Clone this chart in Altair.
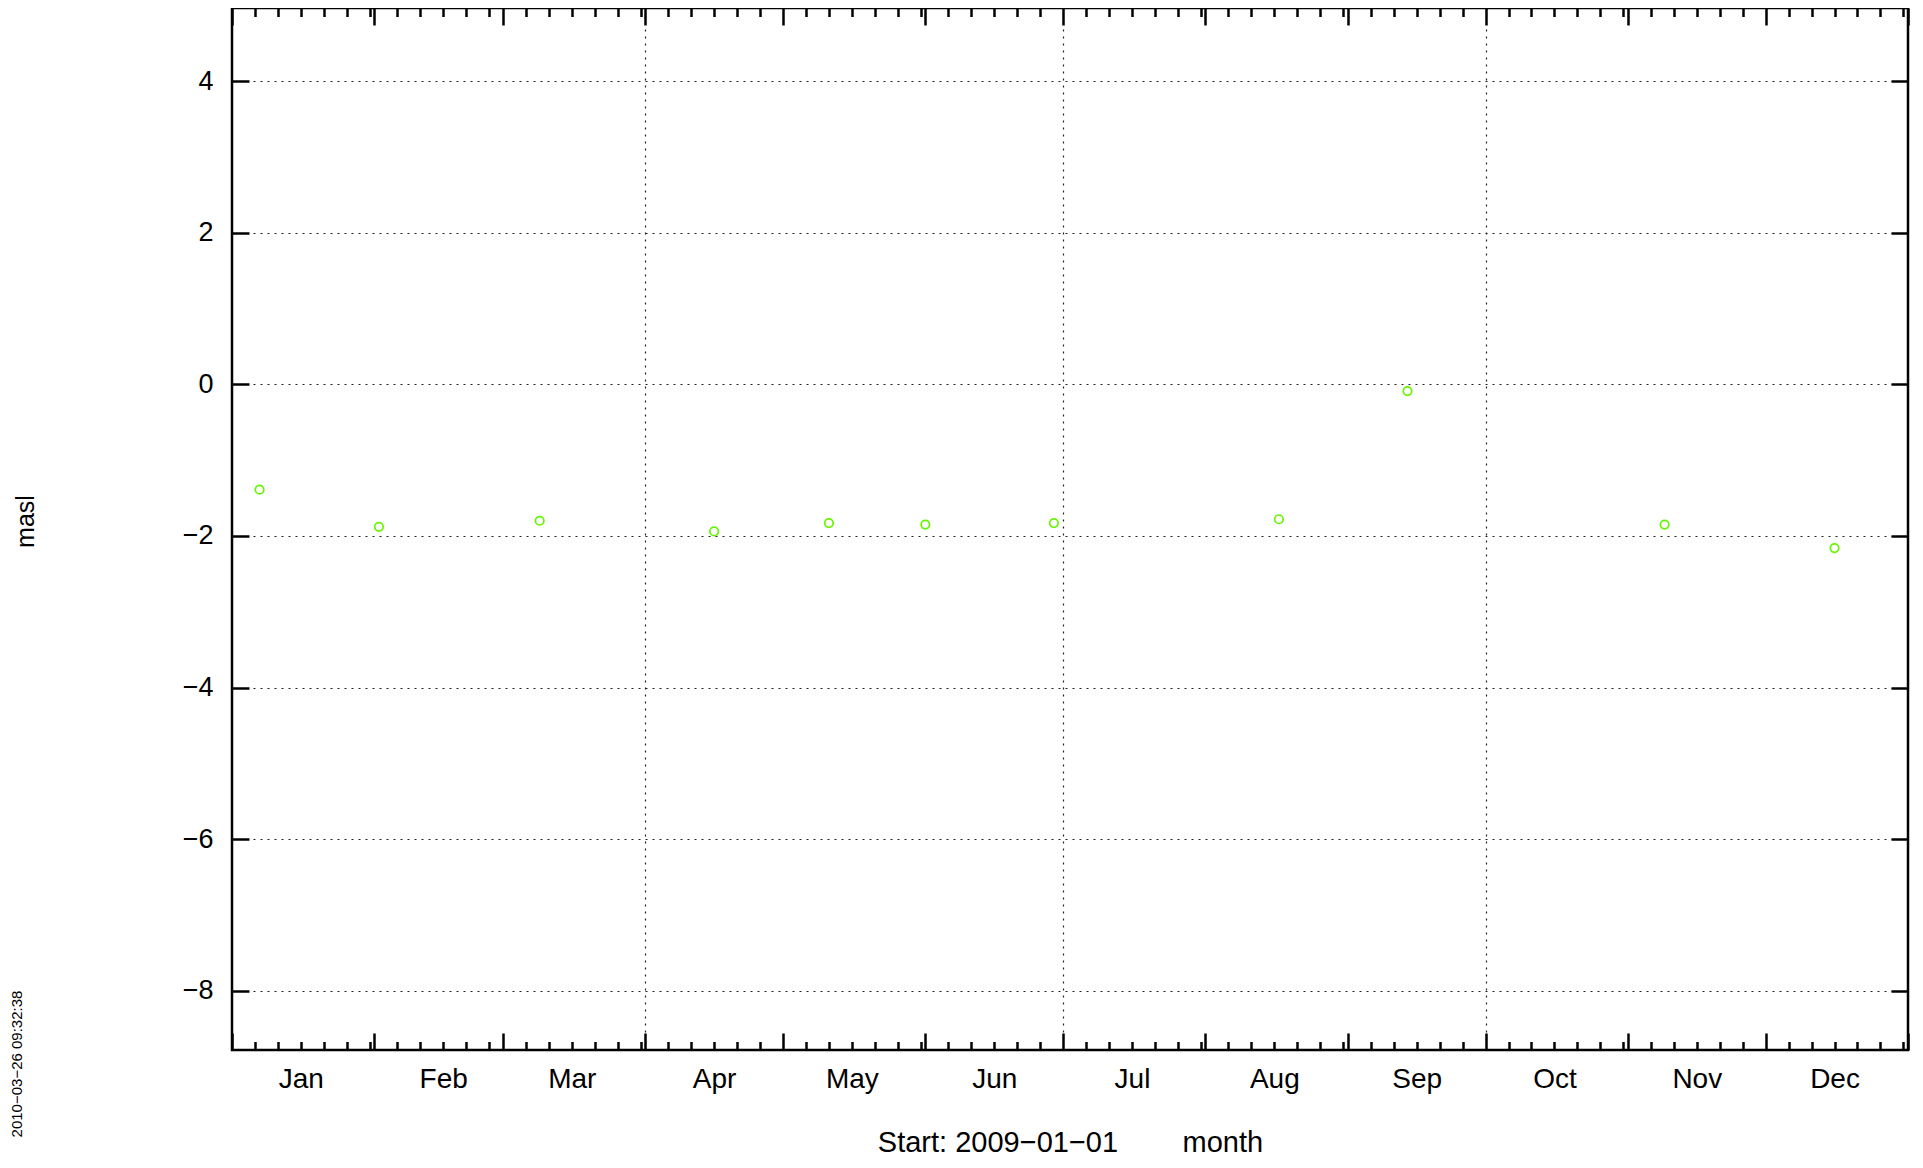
import altair as alt
import pandas as pd
from datetime import datetime, timezone, date

# ---- data ----
obs_dates = ["2009-01-07", "2009-02-02", "2009-03-09", "2009-04-16", "2009-05-11",
             "2009-06-01", "2009-06-29", "2009-08-17", "2009-09-14", "2009-11-09",
             "2009-12-16"]
obs_values = [-1.39, -1.88, -1.80, -1.94, -1.83, -1.85, -1.83, -1.78, -0.09, -1.85, -2.16]

y_ticks = [-8, -6, -4, -2, 0, 2, 4]
y_domain = [-8.78, 4.963]
minor_days = [6, 11, 16, 21, 26, 31]
label_day = 16
grid_months = [4, 7, 10]
x_title = "Start: 2009\u221201\u221201" + "\u00a0" * 8 + "month"
y_title = "masl"
stamp_text = "2010\u221203\u221226 09:32:38"

FONT = "Liberation Sans, Arial, Helvetica, sans-serif"
W, H = 1676, 1042
POINT_COLOR = "#66f500"


def ms(y, m, d):
    return int(datetime(y, m, d, tzinfo=timezone.utc).timestamp() * 1000)


month_starts = [ms(2009, m, 1) for m in range(1, 13)] + [ms(2010, 1, 1)]
label_pos = [ms(2009, m, label_day) for m in range(1, 13)]
minor_pos = []
for m in range(1, 13):
    for d in minor_days:
        try:
            date(2009, m, d)
        except ValueError:
            continue
        minor_pos.append(ms(2009, m, d))
grid_pos = [ms(2009, m, 1) for m in grid_months]

df = pd.DataFrame({"date": obs_dates, "value": obs_values})

xs = alt.Scale(type="utc", domain=[ms(2009, 1, 1), ms(2010, 1, 1)], nice=False)
ys = alt.Scale(domain=y_domain, nice=False, zero=False)


def tick_axis(orient, offset, values, size):
    return alt.Axis(orient=orient, offset=offset, values=values, ticks=True,
                    tickSize=size, tickWidth=2.5, tickColor="black", labels=False,
                    domain=False, grid=False, title=None)


# main layer: points, month labels, y labels + horizontal grid
pts = alt.Chart(df).mark_point(
    shape="circle", filled=False, color=POINT_COLOR, size=72, strokeWidth=1.7, opacity=1
).encode(
    x=alt.X("date:T", scale=xs, axis=alt.Axis(
        orient="bottom", values=label_pos,
        labelExpr="utcFormat(datum.value, '%b')",
        ticks=False, tickSize=0, domain=False, grid=False,
        labelPadding=37, labelBaseline="alphabetic", labelFontSize=28,
        labelFont=FONT, labelColor="black", labelOverlap=False, labelFlush=False,
        title=x_title, titleFont=FONT, titleFontSize=29, titleFontWeight="normal",
        titleColor="black", titleX=W / 2, titleY=101, titleAlign="center",
        titleBaseline="alphabetic")),
    y=alt.Y("value:Q", scale=ys, axis=alt.Axis(
        orient="left", values=y_ticks, ticks=False, tickSize=0, domain=False,
        grid=True, gridDash=[2, 5], gridColor="#222222", gridWidth=1.2,
        labelPadding=19, labelFontSize=27, labelFont=FONT, labelColor="black",
        title=y_title, titleFont=FONT, titleFontSize=25, titleFontWeight="normal",
        titleColor="black", titleAngle=270, titleX=-199, titleY=513,
        titleAlign="center", titleBaseline="alphabetic")),
)

# vertical dotted grid at quarter starts
gridx = alt.Chart(df).mark_point(opacity=0).encode(
    x=alt.X("date:T", scale=xs, axis=alt.Axis(
        orient="bottom", values=grid_pos, ticks=False, tickSize=0, labels=False,
        domain=False, grid=True, gridDash=[2, 5], gridColor="#222222",
        gridWidth=1.2, title=None)),
    y=alt.Y("value:Q", scale=ys, axis=None),
)

# inward ticks: bottom major + left y ticks
l2 = alt.Chart(df).mark_point(opacity=0).encode(
    x=alt.X("date:T", scale=xs, axis=tick_axis("top", -H, month_starts, 17)),
    y=alt.Y("value:Q", scale=ys, axis=tick_axis("right", -W, y_ticks, 17)),
)
# top major + right y ticks
l3 = alt.Chart(df).mark_point(opacity=0).encode(
    x=alt.X("date:T", scale=xs, axis=tick_axis("bottom", -H, month_starts, 17)),
    y=alt.Y("value:Q", scale=ys, axis=tick_axis("left", -W, y_ticks, 17)),
)
# minor ticks bottom
l4 = alt.Chart(df).mark_point(opacity=0).encode(
    x=alt.X("date:T", scale=xs, axis=tick_axis("top", -H, minor_pos, 8.5)),
    y=alt.Y("value:Q", scale=ys, axis=None),
)
# minor ticks top
l5 = alt.Chart(df).mark_point(opacity=0).encode(
    x=alt.X("date:T", scale=xs, axis=tick_axis("bottom", -H, minor_pos, 8.5)),
    y=alt.Y("value:Q", scale=ys, axis=None),
)

stamp = alt.Chart(pd.DataFrame({"t": [stamp_text]})).mark_text(
    angle=270, fontSize=15, font=FONT, align="center", baseline="alphabetic",
    color="black"
).encode(text="t:N", x=alt.value(-210), y=alt.value(1056))

chart = alt.layer(gridx, l2, l3, l4, l5, pts, stamp).resolve_axis(
    x="independent", y="independent"
).properties(
    width=W, height=H,
    autosize=alt.AutoSizeParams(type="none"),
    padding={"left": 224, "top": 0, "right": 7, "bottom": 109},
    background="white",
).configure_view(stroke="black", strokeWidth=2.5)

chart.save("out.html", embed_options={"renderer": "svg", "actions": False})
